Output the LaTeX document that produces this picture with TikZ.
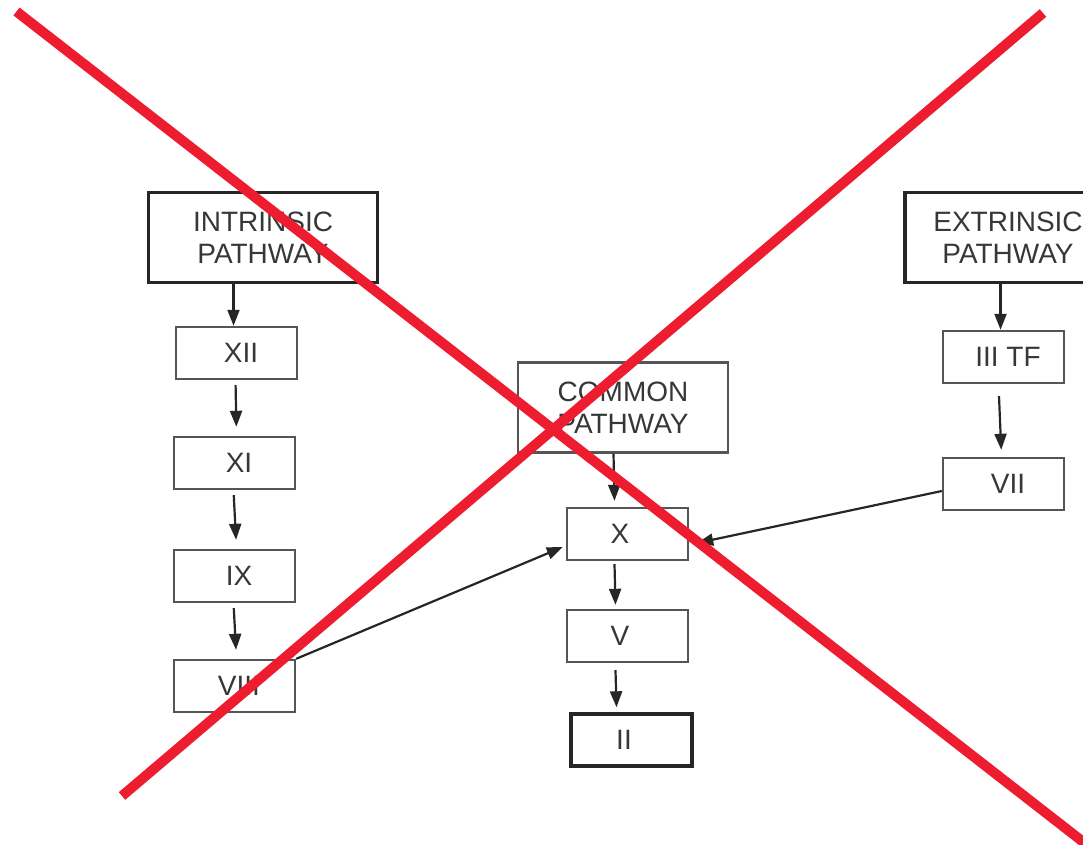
\documentclass[tikz,border=0pt]{standalone}
\usepackage{fontspec}
\setmainfont{Liberation Sans}
\usetikzlibrary{arrows.meta,calc}
\definecolor{xred}{RGB}{237,28,46}
\definecolor{ink}{RGB}{55,55,55}
\tikzset{
  stepbox/.style={draw=ink!85!white, line width=2.4pt, text=ink, inner sep=0pt,
    minimum width=121pt, minimum height=52pt, font=\fontsize{28}{32}\selectfont},
  shifted/.style={execute at begin node={\hspace*{9pt}}},
  lshifted/.style={execute at end node={\hspace*{15pt}}},
  pathbox/.style={stepbox, draw=black!85, line width=3.4pt, align=center,
    minimum height=90pt},
  arr/.style={-{Triangle[length=16pt,width=12pt]}, line width=2.2pt, draw=black!85},
  cross/.style={xred, line width=10pt}
}
\begin{document}
\begin{tikzpicture}[x=1pt,y=-1pt]
   \useasboundingbox (0,0) rectangle (1083,845);
   \clip (0,0) rectangle (1083,845);

   % intrinsic side
   \node[pathbox, minimum width=229pt] (IP) at (263,237.5) {INTRINSIC\\PATHWAY};
   \node[stepbox, shifted] (f12) at (236.5,353) {XII};
   \node[stepbox, shifted] (f11) at (234.5,463) {XI};
   \node[stepbox, shifted] (f9) at (234.5,576) {IX};
   \node[stepbox, shifted] (f8) at (234.5,686) {VIII};

   % common pathway
   \node[stepbox, align=center, minimum width=210pt, minimum height=90pt] (CP) at (623,407.5) {COMMON\\PATHWAY};
   \node[stepbox, lshifted] (f10) at (627.5,534) {X};
   \node[stepbox, lshifted] (f5) at (627.5,636) {V};
   \node[pathbox, minimum height=52pt, align=left, lshifted] (f2) at (631.5,740) {II};

   % extrinsic side
   \node[pathbox, minimum width=206pt] (EP) at (1008,237.5) {EXTRINSIC\\PATHWAY};
   \node[stepbox, shifted] (f3) at (1003.5,357) {III TF};
   \node[stepbox, shifted] (f7) at (1003.5,484) {VII};

   \draw[arr] ($(IP.south -| f12)+(-3,0)$) -- ($(f12.north)+(-3,0)$);
   \foreach \a/\b in {f12/f11, f11/f9, f9/f8}
   \draw[arr, shorten <=5pt, shorten >=9pt] ($(\a.south)+(-1,0)$) -- ($(\b.north)+(2,0)$);
   \draw[arr] (f8.north east) -- ($(f10.west)+(-3,13)$);

   \draw[arr] ($(CP.south -| f10)+(-14,0)$) -- ($(f10.north)+(-13,-6)$);
   \draw[arr] ($(f10.south)+(-13,3)$) -- ($(f5.north)+(-12,-4)$);
   \draw[arr] ($(f5.south)+(-12,7)$) -- ($(f2.north)+(-15,-5)$);

   \draw[arr] ($(EP.south -| f3)+(-3,0)$) -- ($(f3.north)+(-3,0)$);
   \draw[arr, shorten <=12pt, shorten >=7pt] ($(f3.south)+(-5,0)$) -- ($(f7.north)+(-2,0)$);
   \draw[arr] ($(f7.west)+(0,7)$) -- ($(f10.east)+(8,9)$);

   % red cross over everything
   \draw[cross] (16.5,11.5) -- (1100,855);
   \draw[cross] (1043,13) -- (122,796);

\end{tikzpicture}
\end{document}
